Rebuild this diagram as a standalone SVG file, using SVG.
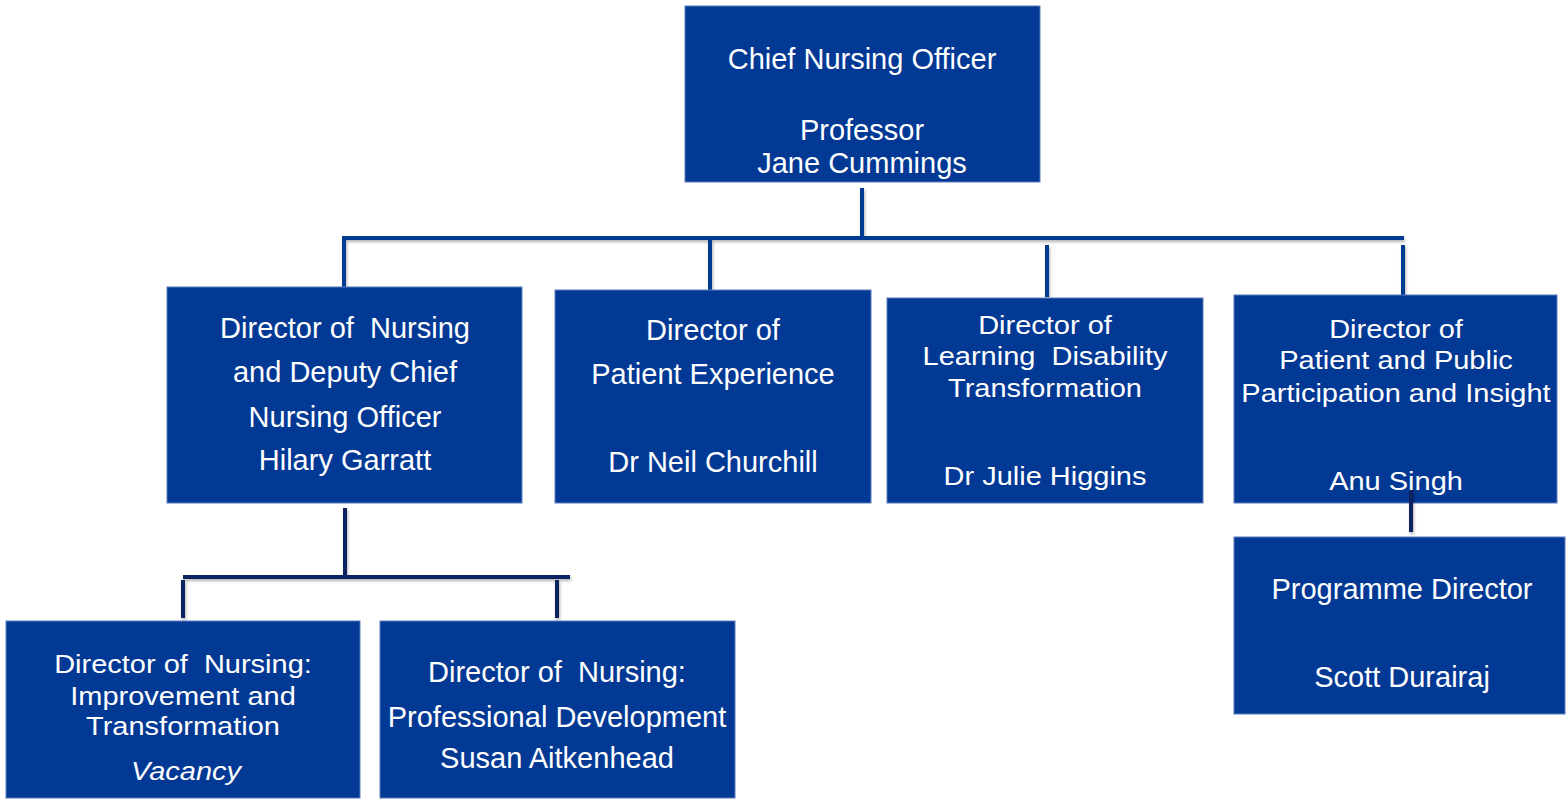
<svg xmlns="http://www.w3.org/2000/svg" width="1566" height="801" viewBox="0 0 1566 801">
<defs>
<style>
.box{fill:#023994;stroke:#5a7cbd;stroke-width:1}
.t{font-family:"Liberation Sans",Arial,sans-serif;font-size:29px;fill:#ffffff;text-anchor:middle}
.it{font-style:italic}
.c1{stroke:#053a92;stroke-width:4;fill:none;stroke-linecap:butt}
.c2{stroke:#0c2460;stroke-width:4;fill:none;stroke-linecap:butt}
</style>
<filter id="sh" filterUnits="userSpaceOnUse" x="0" y="0" width="1566" height="801">
<feDropShadow dx="1" dy="2" stdDeviation="1.5" flood-color="#000" flood-opacity="0.3"/>
</filter>
</defs>
<rect width="1566" height="801" fill="#ffffff"/>

<g id="connectors" filter="url(#sh)">
<line class="c1" x1="862" y1="188" x2="862" y2="240"/>
<line class="c1" x1="342" y1="238" x2="1404" y2="238"/>
<line class="c1" x1="344" y1="236" x2="344" y2="287"/>
<line class="c1" x1="710" y1="238" x2="710" y2="290"/>
<line class="c1" x1="1047" y1="245" x2="1047" y2="297"/>
<line class="c1" x1="1403" y1="245" x2="1403" y2="295"/>
<line class="c2" x1="345" y1="508" x2="345" y2="577"/>
<line class="c2" x1="183" y1="577" x2="570" y2="577"/>
<line class="c2" x1="183" y1="580" x2="183" y2="618"/>
<line class="c2" x1="557" y1="580" x2="557" y2="618"/>
</g>

<g id="n-cno">
<rect class="box" x="685" y="6" width="355" height="176"/>
<text class="t" x="862" y="69">Chief Nursing Officer</text>
<text class="t" x="862" y="140">Professor</text>
<text class="t" x="862" y="173">Jane Cummings</text>
</g>

<g id="n-deputy">
<rect class="box" x="167" y="287" width="355" height="216"/>
<text class="t" x="345" y="338" xml:space="preserve">Director of  Nursing</text>
<text class="t" x="345" y="382">and Deputy Chief</text>
<text class="t" x="345" y="427">Nursing Officer</text>
<text class="t" x="345" y="470">Hilary Garratt</text>
</g>

<g id="n-patient-exp">
<rect class="box" x="555" y="290" width="316" height="213"/>
<text class="t" x="713" y="340">Director of</text>
<text class="t" x="713" y="384">Patient Experience</text>
<text class="t" x="713" y="472">Dr Neil Churchill</text>
</g>

<g id="n-learning">
<rect class="box" x="887" y="298" width="316" height="205"/>
<text class="t" transform="translate(1045,334) scale(1,0.88)">Director of</text>
<text class="t" transform="translate(1045,365) scale(1,0.88)" xml:space="preserve">Learning  Disability</text>
<text class="t" transform="translate(1045,397) scale(1,0.88)">Transformation</text>
<text class="t" transform="translate(1045,485) scale(1,0.88)">Dr Julie Higgins</text>
</g>

<g id="n-participation">
<rect class="box" x="1234" y="295" width="323" height="208"/>
<text class="t" transform="translate(1396,338) scale(1,0.88)">Director of</text>
<text class="t" transform="translate(1396,369) scale(1,0.88)">Patient and Public</text>
<text class="t" transform="translate(1396,402) scale(1,0.88)">Participation and Insight</text>
<text class="t" transform="translate(1396,490) scale(1,0.88)">Anu Singh</text>
</g>

<g id="n-programme">
<rect class="box" x="1234" y="537" width="331" height="177"/>
<text class="t" x="1402" y="599">Programme Director</text>
<text class="t" x="1402" y="687">Scott Durairaj</text>
</g>

<g id="c-anu-programme" filter="url(#sh)">
<line class="c2" x1="1411" y1="490" x2="1411" y2="532" stroke-width="5"/>
</g>

<g id="n-improvement">
<rect class="box" x="6" y="621" width="354" height="177"/>
<text class="t" transform="translate(183,673) scale(1,0.88)" xml:space="preserve">Director of  Nursing:</text>
<text class="t" transform="translate(183,705) scale(1,0.88)">Improvement and</text>
<text class="t" transform="translate(183,735) scale(1,0.88)">Transformation</text>
<text class="t it" transform="translate(186,780) scale(1,0.88)">Vacancy</text>
</g>

<g id="n-professional">
<rect class="box" x="380" y="621" width="355" height="177"/>
<text class="t" x="557" y="682" xml:space="preserve">Director of  Nursing:</text>
<text class="t" x="557" y="727">Professional Development</text>
<text class="t" x="557" y="768">Susan Aitkenhead</text>
</g>
</svg>
